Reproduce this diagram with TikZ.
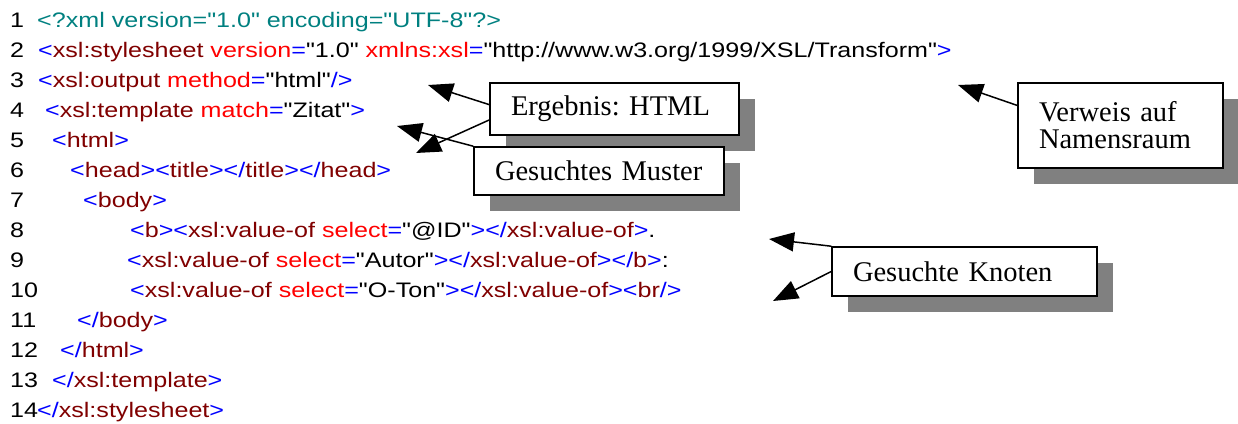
\documentclass[tikz,border=0pt]{standalone}
\usepackage{fontspec}
\usepackage{xcolor}
\usepackage{tikz}
\usetikzlibrary{arrows.meta,shadows}
\newfontfamily\codefont{Liberation Sans}[FakeStretch=1.195]
\newfontfamily\notefont{Liberation Serif}
\definecolor{xmlteal}{HTML}{008080}
\definecolor{markblue}{HTML}{0000FF}
\definecolor{tagred}{HTML}{800000}
\definecolor{attred}{HTML}{FF0000}
\definecolor{shadowgray}{HTML}{808080}
\newcommand{\xbr}[1]{\textcolor{markblue}{#1}}
\newcommand{\xtag}[1]{\textcolor{tagred}{#1}}
\newcommand{\xatt}[1]{\textcolor{attred}{#1}}
\frenchspacing

\begin{document}
\begin{tikzpicture}[x=1pt, y=-1pt,
    lnum/.style={anchor=base west, inner sep=0pt, font=\codefont\fontsize{21}{24}\selectfont},
    codeline/.style={lnum},
    callout/.style={draw, line width=1.6pt, fill=white, inner ysep=0pt, inner xsep=21pt,
      align=left, font=\notefont\fontsize{28.5}{27}\selectfont,
      drop shadow={shadow xshift=15.5pt, shadow yshift=-15.5pt, fill=shadowgray, opacity=1}},
    pointer/.style={line width=1.5pt, -{Triangle[length=25pt,width=19pt]}}]
  \useasboundingbox (0,0) rectangle (1238,423);
  % line numbers
  \foreach \i in {1,...,14}
    \node[lnum] (n\i) at (10, {27.5+30*(\i-1)}) {\i};
  % code lines
  \node[codeline] (l1) at (37, 27.5) {\textcolor{xmlteal}{<?xml version="1.0" encoding="UTF-8"?>}};
  \node[codeline] (l2) at (38, 57.5) {\xbr{<}\xtag{xsl:stylesheet} \xatt{version}\xbr{=}"1.0" \xatt{xmlns:xsl}\xbr{=}"http://www.w3.org/1999/XSL/Transform"\xbr{>}};
  \node[codeline] (l3) at (38, 87.5) {\xbr{<}\xtag{xsl:output} \xatt{method}\xbr{=}"html"\xbr{/>}};
  \node[codeline] (l4) at (45, 117.5) {\xbr{<}\xtag{xsl:template} \xatt{match}\xbr{=}"Zitat"\xbr{>}};
  \node[codeline] (l5) at (52, 147.5) {\xbr{<}\xtag{html}\xbr{>}};
  \node[codeline] (l6) at (70, 177.5) {\xbr{<}\xtag{head}\xbr{><}\xtag{title}\xbr{></}\xtag{title}\xbr{></}\xtag{head}\xbr{>}};
  \node[codeline] (l7) at (83, 207.5) {\xbr{<}\xtag{body}\xbr{>}};
  \node[codeline] (l8) at (130, 237.5) {\xbr{<}\xtag{b}\xbr{><}\xtag{xsl:value-of} \xatt{select}\xbr{=}"@ID"\xbr{></}\xtag{xsl:value-of}\xbr{>}.};
  \node[codeline] (l9) at (127, 267.5) {\xbr{<}\xtag{xsl:value-of} \xatt{select}\xbr{=}"Autor"\xbr{></}\xtag{xsl:value-of}\xbr{></}\xtag{b}\xbr{>}:};
  \node[codeline] (l10) at (130, 297.5) {\xbr{<}\xtag{xsl:value-of} \xatt{select}\xbr{=}"O-Ton"\xbr{></}\xtag{xsl:value-of}\xbr{><}\xtag{br}\xbr{/>}};
  \node[codeline] (l11) at (77, 327.5) {\xbr{</}\xtag{body}\xbr{>}};
  \node[codeline] (l12) at (60, 357.5) {\xbr{</}\xtag{html}\xbr{>}};
  \node[codeline] (l13) at (52, 387.5) {\xbr{</}\xtag{xsl:template}\xbr{>}};
  \node[codeline] (l14) at (37, 417.5) {\xbr{</}\xtag{xsl:stylesheet}\xbr{>}};
  % callout boxes
  \node[callout, text width=207pt, minimum height=52pt] (erg) at (614.5, 109) {Ergebnis: HTML};
  \node[callout, text width=208pt, minimum height=48pt] (muster) at (599, 171) {Gesuchtes Muster};
  \node[callout, text width=163pt, minimum height=85pt] (verweis) at (1120.5, 125.5) {Verweis auf\\Namensraum};
  \node[callout, text width=223pt, minimum height=49pt] (knoten) at (964.5, 271.5) {Gesuchte Knoten};
  % arrow targets
  \coordinate (tipA) at (428, 85);
  \coordinate (tipB) at (416, 153);
  \coordinate (tipC) at (397, 126);
  \coordinate (tipD) at (958, 85);
  \coordinate (tipE) at (769, 239);
  \coordinate (tipF) at (773, 301);
  % arrows
  \draw[pointer] (erg.178) -- (tipA);
  \draw[pointer] (erg.185) -- (tipB);
  \draw[pointer] (muster.north west) -- (tipC);
  \draw[pointer] (verweis.169) -- (tipD);
  \draw[pointer] (knoten.north west) -- (tipE);
  \draw[pointer] (knoten.west) -- (tipF);
\end{tikzpicture}
\end{document}
